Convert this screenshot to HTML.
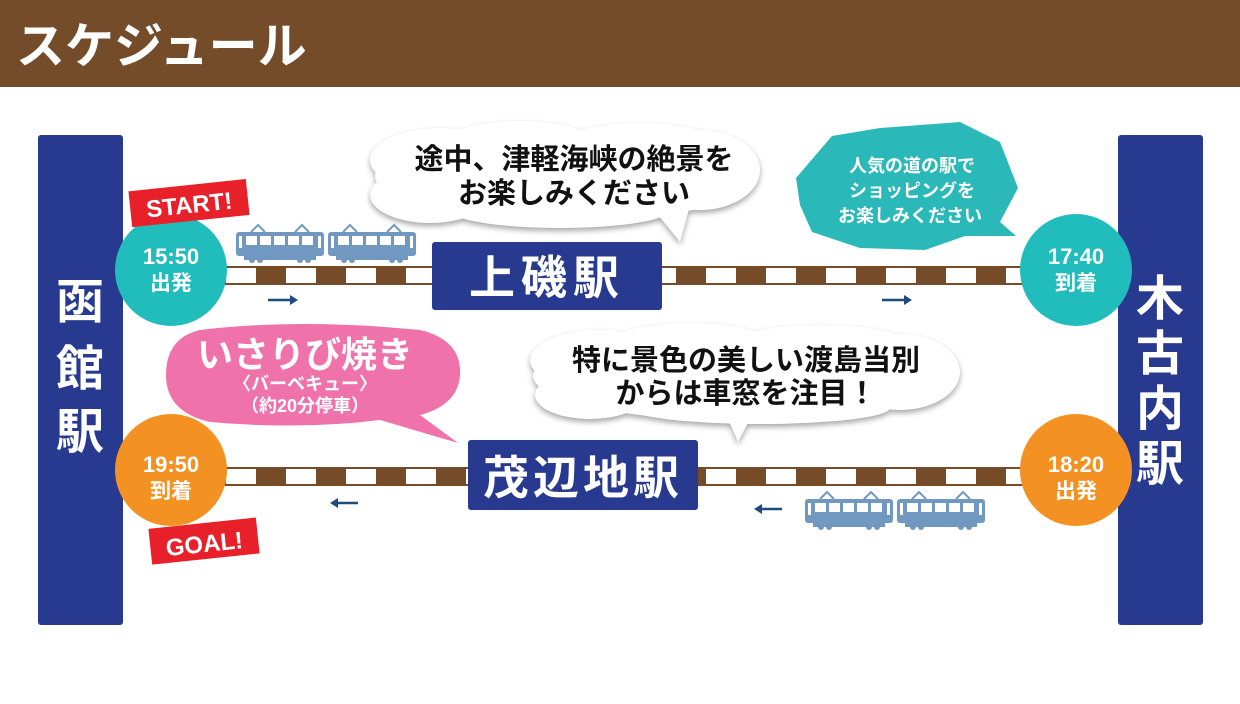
<!DOCTYPE html>
<html><head><meta charset="utf-8"><style>
body{margin:0;background:#fff}
svg{display:block}
text{font-family:"Liberation Sans","Noto Sans CJK JP",sans-serif;font-weight:bold}
</style></head><body>
<svg width="1240" height="704" viewBox="0 0 1240 704" xmlns="http://www.w3.org/2000/svg">
<defs>
<pattern id="trk" x="226" y="0" width="60" height="704" patternUnits="userSpaceOnUse">
<rect x="30" y="0" width="30" height="704" fill="#764c28"/>
</pattern>
<g id="car">
<rect x="0" y="12" width="88" height="24" rx="3" fill="#7198c0"/>
<rect x="8" y="36" width="72" height="4" fill="#7198c0"/>
<circle cx="16" cy="40" r="3" fill="#7198c0"/><circle cx="24" cy="40" r="3" fill="#7198c0"/>
<circle cx="64" cy="40" r="3" fill="#7198c0"/><circle cx="72" cy="40" r="3" fill="#7198c0"/>
<path d="M15 12 L22 5 L29 12 M59 12 L66 5 L73 12" stroke="#7198c0" stroke-width="2" fill="none"/>
<g fill="#fff"><rect x="3" y="16" width="3" height="12"/><rect x="82" y="16" width="3" height="12"/>
<rect x="10" y="16" width="11" height="9"/><rect x="24" y="16" width="11" height="9"/><rect x="38" y="16" width="11" height="9"/><rect x="52" y="16" width="11" height="9"/><rect x="66" y="16" width="11" height="9"/></g>
</g>
</defs>
<rect x="0" y="0" width="1240" height="87" fill="#754c29"/>
<text x="16" y="63" font-size="49" fill="#fff">スケジュール</text>

<!-- tracks -->
<rect x="222" y="266" width="806" height="19" fill="#fff"/>
<rect x="222" y="266" width="806" height="19" fill="url(#trk)"/>
<rect x="222" y="266" width="806" height="2" fill="#764c28"/><rect x="222" y="283" width="806" height="2" fill="#764c28"/>
<rect x="222" y="467" width="806" height="19" fill="url(#trk)"/>
<rect x="222" y="467" width="806" height="2" fill="#764c28"/><rect x="222" y="484" width="806" height="2" fill="#764c28"/>

<!-- bars -->
<rect x="38" y="135" width="85" height="490" rx="3" fill="#283a8f"/>
<rect x="1118" y="135" width="85" height="490" rx="3" fill="#283a8f"/>
<g font-size="48" fill="#fff" text-anchor="middle">
<text x="80" y="318">函</text><text x="80" y="385">館</text><text x="80" y="448">駅</text>
<text x="1160" y="315">木</text><text x="1160" y="370">古</text><text x="1160" y="425">内</text><text x="1160" y="480">駅</text>
</g>

<!-- trains -->
<use href="#car" x="236" y="220"/><use href="#car" x="328" y="220"/>
<use href="#car" x="805" y="487"/><use href="#car" x="897" y="487"/>

<!-- stations -->
<rect x="432" y="242" width="230" height="68" rx="3" fill="#283a8f"/>
<text x="547" y="294" font-size="46" fill="#fff" text-anchor="middle" letter-spacing="6">上磯駅</text>
<rect x="468" y="440" width="230" height="70" rx="3" fill="#283a8f"/>
<text x="583" y="494" font-size="46" fill="#fff" text-anchor="middle" letter-spacing="4">茂辺地駅</text>

<!-- circles -->
<circle cx="171" cy="270" r="56" fill="#21bcbc"/>
<circle cx="1076" cy="270" r="56" fill="#21bcbc"/>
<circle cx="171" cy="470" r="56" fill="#f39222"/>
<circle cx="1076" cy="470" r="56" fill="#f39222"/>
<g fill="#fff" text-anchor="middle" font-size="22">
<text x="171" y="264">15:50</text><text x="171" y="290" font-size="21">出発</text>
<text x="1076" y="264">17:40</text><text x="1076" y="290" font-size="21">到着</text>
<text x="171" y="472">19:50</text><text x="171" y="498" font-size="21">到着</text>
<text x="1076" y="472">18:20</text><text x="1076" y="498" font-size="21">出発</text>
</g>

<!-- start / goal -->
<g transform="rotate(-6 190 203)"><rect x="130" y="185" width="118" height="36" fill="#e8202a"/>
<text x="189" y="213" font-size="24" fill="#fff" text-anchor="middle">START!</text></g>
<g transform="rotate(-6 205 541)"><rect x="150" y="523" width="108" height="36" fill="#e8202a"/>
<text x="204" y="552" font-size="24" fill="#fff" text-anchor="middle">GOAL!</text></g>

<!-- arrows -->
<g stroke="#1f4a7e" stroke-width="2.5" fill="#1f4a7e">
<line x1="268" y1="300" x2="292" y2="300"/><path d="M298 300 L290 295 L290 305Z" stroke="none"/>
<line x1="882" y1="300" x2="906" y2="300"/><path d="M912 300 L904 295 L904 305Z" stroke="none"/>
<line x1="336" y1="503" x2="358" y2="503"/><path d="M330 503 L338 498 L338 508Z" stroke="none"/>
<line x1="760" y1="509" x2="782" y2="509"/><path d="M754 509 L762 504 L762 514Z" stroke="none"/>
</g>

<!-- cloud 1 -->
<g fill="#fff" style="filter:drop-shadow(0 3px 3px rgba(0,0,0,.35))">
<path d="M650 205 L680 242 L690 205Z"/>
<ellipse cx="565" cy="176" rx="190" ry="46"/>
<ellipse cx="440" cy="160" rx="70" ry="32"/><ellipse cx="520" cy="143" rx="75" ry="22"/><ellipse cx="640" cy="145" rx="80" ry="22"/>
<ellipse cx="700" cy="170" rx="60" ry="40"/><ellipse cx="430" cy="195" rx="60" ry="28"/><ellipse cx="560" cy="210" rx="110" ry="18"/>
</g>
<text x="574" y="169" font-size="29" text-anchor="middle" fill="#111">途中、津軽海峡の絶景を</text>
<text x="574" y="203" font-size="29" text-anchor="middle" fill="#111">お楽しみください</text>

<!-- cloud 2 -->
<g fill="#fff" style="filter:drop-shadow(0 3px 3px rgba(0,0,0,.35))">
<path d="M720 400 L738 442 L760 400Z"/>
<ellipse cx="745" cy="376" rx="212" ry="45"/>
<ellipse cx="600" cy="360" rx="70" ry="30"/><ellipse cx="690" cy="343" rx="80" ry="20"/><ellipse cx="820" cy="345" rx="90" ry="20"/>
<ellipse cx="900" cy="372" rx="60" ry="38"/><ellipse cx="590" cy="395" rx="55" ry="24"/><ellipse cx="760" cy="408" rx="130" ry="16"/>
</g>
<text x="746" y="370" font-size="29" text-anchor="middle" fill="#111">特に景色の美しい渡島当別</text>
<text x="746" y="403" font-size="29" text-anchor="middle" fill="#111">からは車窓を注目！</text>

<!-- teal bubble -->
<polygon points="796,178 832,136 880,128 960,122 1000,142 1018,188 1000,222 1016,236 965,236 925,250 860,248 812,232 800,205" fill="#2bb8b8"/>
<g fill="#fff" font-size="18" text-anchor="middle">
<text x="912" y="172">人気の道の駅で</text><text x="912" y="197">ショッピングを</text><text x="910" y="222">お楽しみください</text>
</g>

<!-- pink bubble -->
<path d="M200 330 Q300 318 420 330 Q462 340 460 375 Q458 405 420 415 L458 443 L380 420 Q300 430 210 422 Q166 412 166 375 Q166 338 200 330Z" fill="#ef72ab"/>
<g fill="#fff" text-anchor="middle">
<text x="305" y="367" font-size="36">いさりび焼き</text>
<text x="305" y="390" font-size="18" font-weight="normal">〈バーベキュー〉</text>
<text x="305" y="412" font-size="18" font-weight="normal">（約20分停車）</text>
</g>
</svg>
</body></html>
